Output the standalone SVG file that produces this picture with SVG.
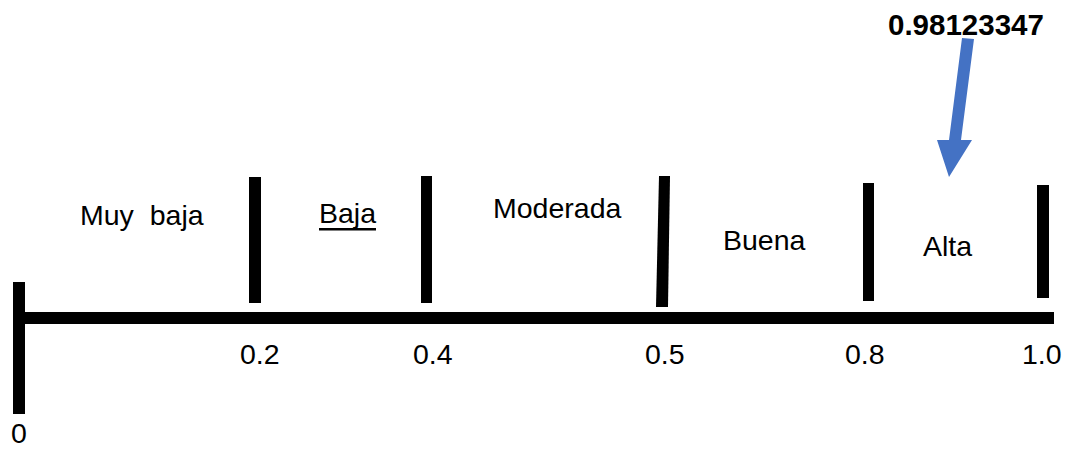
<svg xmlns="http://www.w3.org/2000/svg" width="1066" height="450" viewBox="0 0 1066 450">
<style>
.t{font-family:"Liberation Sans",Arial,sans-serif;font-size:28.5px;fill:#000}
.b{font-family:"Liberation Sans",Arial,sans-serif;font-size:29.5px;font-weight:bold;fill:#000}
.bar{fill:#000}
</style>
<rect width="1066" height="450" fill="#fff"/>
<g id="axis">
<rect class="bar" x="25" y="312" width="1029" height="12"/>
<rect class="bar" x="13" y="282" width="12" height="132"/>
</g>
<g id="ticks">
<rect class="bar" x="249" y="177" width="12" height="126"/>
<rect class="bar" x="421" y="176" width="11" height="127"/>
<polygon class="bar" points="659,176 670,176 668,307 656,307"/>
<rect class="bar" x="863" y="183" width="11" height="118"/>
<rect class="bar" x="1037" y="185" width="12" height="113"/>
</g>
<g id="labels">
<text class="t" x="80" y="225" xml:space="preserve">Muy  baja</text>
<text class="t" x="319" y="223">Baja</text>
<rect x="319" y="228" width="57" height="2.5" fill="#000"/>
<text class="t" x="493" y="218">Moderada</text>
<text class="t" x="723" y="250">Buena</text>
<text class="t" x="923" y="256">Alta</text>
</g>
<g id="values">
<text class="t" x="240" y="364">0.2</text>
<text class="t" x="413" y="364">0.4</text>
<text class="t" x="645" y="364">0.5</text>
<text class="t" x="845" y="364">0.8</text>
<text class="t" x="1022" y="364">1.0</text>
<text class="t" x="11" y="443">0</text>
</g>
<g id="pointer">
<text class="b" x="888" y="35">0.98123347</text>
<polygon fill="#4472C4" points="962,38 974,39 961,140 972,140 949,177 937,140 949,140"/>
</g>
</svg>
